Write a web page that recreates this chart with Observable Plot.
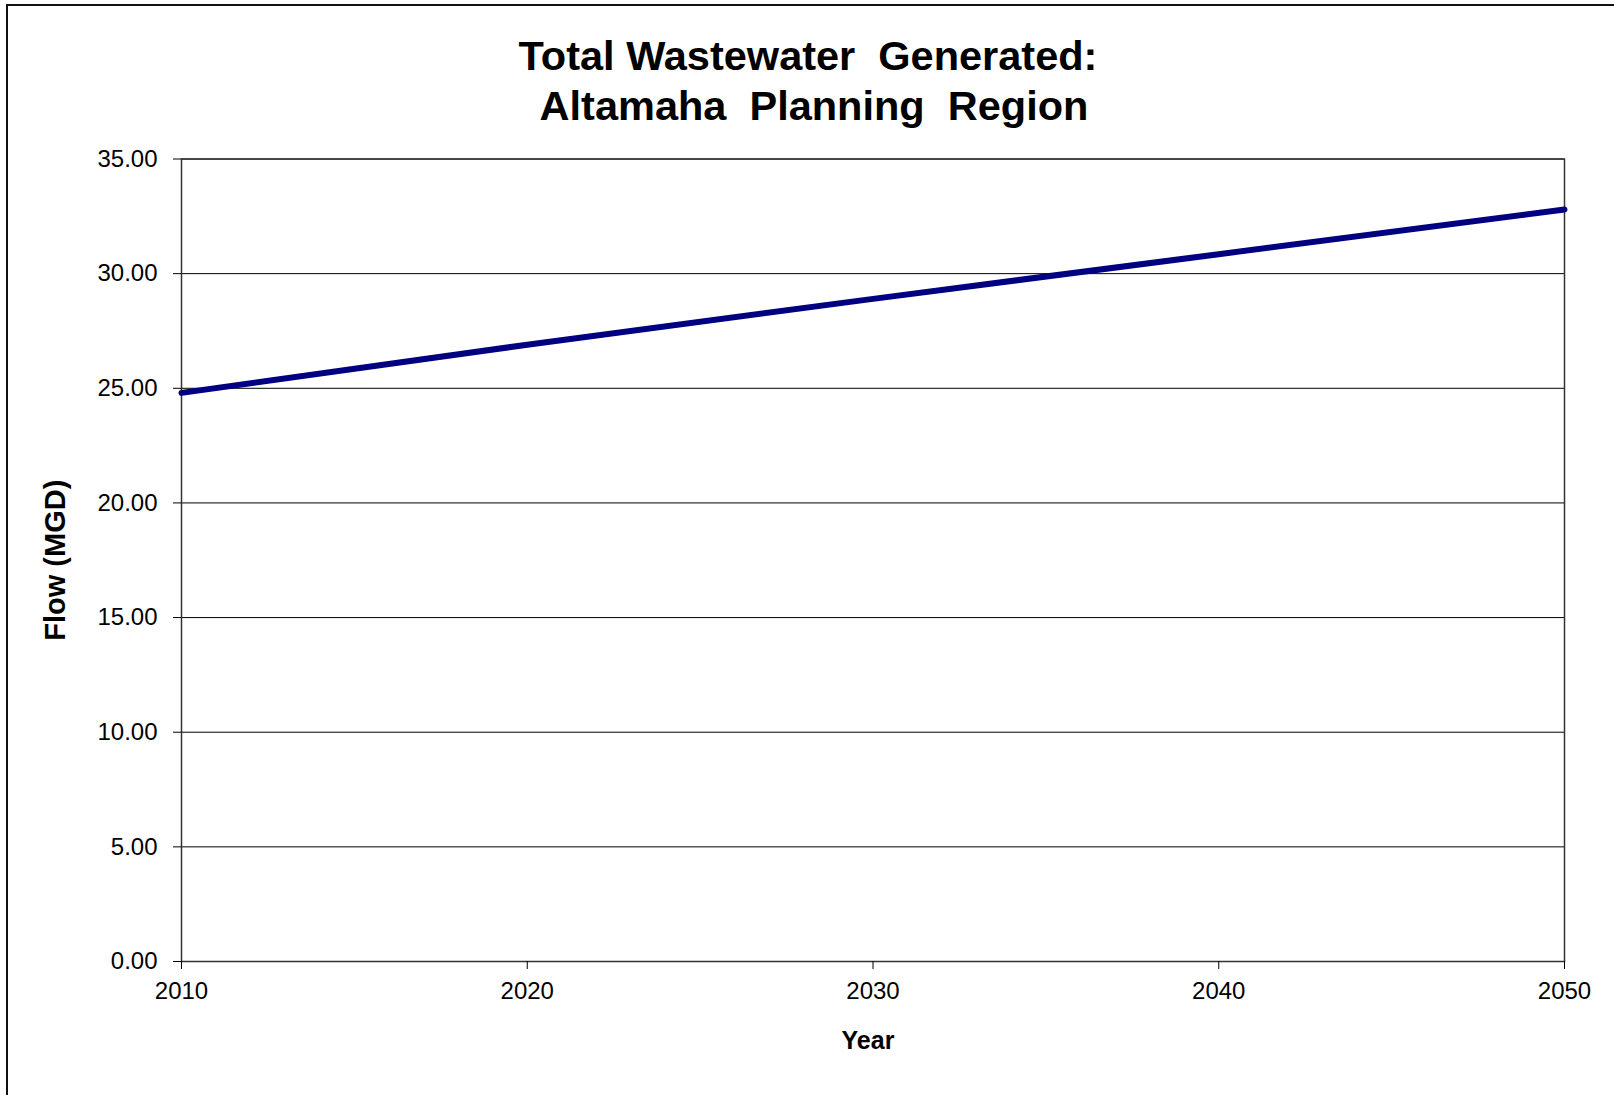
<!DOCTYPE html>
<html>
<head>
<meta charset="utf-8">
<script src="https://cdn.jsdelivr.net/npm/d3@7"></script>
<script src="https://cdn.jsdelivr.net/npm/@observablehq/plot@0.6"></script>
<style>
  body { margin: 0; background: #fff; }
  #wrap { position: relative; width: 1614px; height: 1095px; overflow: hidden; background: #fff; }
  #border { position: absolute; left: 6px; top: 4px; width: 1700px; height: 1200px; border: 2px solid #111; box-sizing: border-box; }
  #title { position: absolute; left: 0; top: 31px; width: 1616px; text-align: center;
           font: bold 41.5px "Liberation Sans", Arial, sans-serif; line-height: 50px; color: #000; white-space: pre; }
  #title .l2 { position: relative; left: 6px; }
  #chart { position: absolute; left: 0; top: 130px; }
</style>
</head>
<body>
<div id="wrap">
  <div id="border"></div>
  <div id="title">Total Wastewater  Generated:
<span class="l2">Altamaha  Planning  Region</span></div>
  <div id="chart"></div>
</div>
<script>
const years = [2010, 2020, 2030, 2040, 2050];
const flow = [24.8, 26.9, 28.9, 30.85, 32.8];
const yTicks = [0, 5, 10, 15, 20, 25, 30, 35];
const xTicks = [2010, 2020, 2030, 2040, 2050];

const data = years.map((y, i) => ({year: y, flow: flow[i]}));

const chart = Plot.plot({
  width: 1614,
  height: 965,
  marginTop: 28.5,
  marginBottom: 134,
  marginLeft: 181,
  marginRight: 50,
  style: {fontFamily: "'Liberation Sans', Arial, sans-serif", fontSize: "24px", color: "#000", background: "transparent"},
  x: {domain: [2010, 2050]},
  y: {domain: [0, 35]},
  marks: [
    Plot.ruleY(yTicks, {stroke: "#000", strokeWidth: 1}),
    Plot.frame({stroke: "#333", strokeWidth: 1.5}),
    Plot.axisY({ticks: yTicks, tickFormat: d3.format(".2f"), tickSize: 8, tickPadding: 16,
      label: "Flow (MGD)", labelAnchor: "center", labelArrow: "none", labelOffset: 137,
      fontSize: 24}),
    Plot.axisX({ticks: xTicks, tickFormat: d3.format("d"), tickSize: 8, tickPadding: 12,
      label: "Year", labelAnchor: "center", labelArrow: "none", labelOffset: 87,
      fontSize: 24}),
    Plot.line(data, {x: "year", y: "flow", stroke: "#000080", strokeWidth: 6})
  ]
});
document.getElementById("chart").appendChild(chart);
// bold axis labels
chart.querySelectorAll("g[aria-label='y-axis label'] text").forEach(t => {
  t.style.fontWeight = "bold";
  t.style.fontSize = "29px";
});
chart.querySelectorAll("g[aria-label='x-axis label'] text").forEach(t => {
  t.style.fontWeight = "bold";
  t.style.fontSize = "25px";
  t.setAttribute("dx", "-5");
});
</script>
</body>
</html>
